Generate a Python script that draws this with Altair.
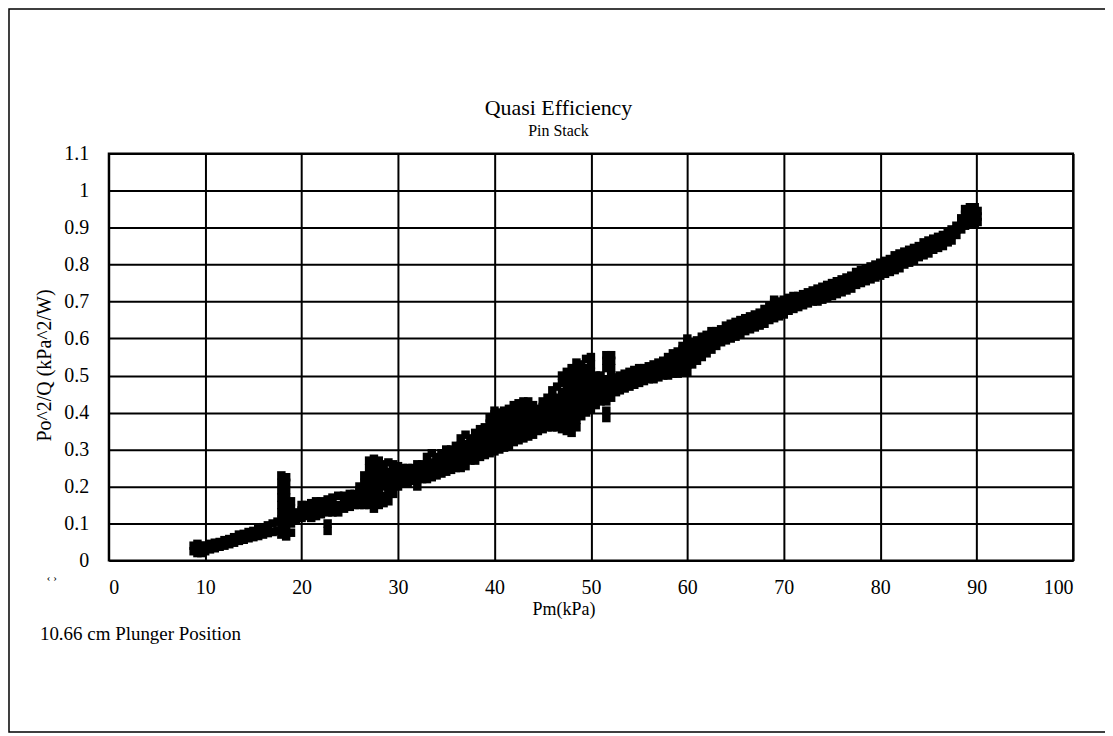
import altair as alt
import pandas as pd

# Pm positions (kPa) and the Po^2/Q values stacked at each position
pm_positions = [
    8.8, 9.2, 9.6, 10.0, 10.5, 11.0, 11.5, 12.0, 12.5, 13.0, 13.5, 14.0, 14.5, 15.0, 15.5,
    16.0, 16.5, 17.0, 17.5, 17.9, 18.4, 18.9, 19.4, 20.0, 20.5, 21.0, 21.5, 22.0, 22.7,
    23.2, 23.8, 24.4, 25.0, 25.5, 26.0, 26.5, 27.0, 27.5, 28.0, 28.5, 29.0, 29.5, 30.0,
    30.5, 31.0, 31.5, 32.0, 32.5, 33.0, 33.5, 34.0, 34.5, 35.0, 35.5, 36.0, 36.5, 37.0,
    37.5, 38.0, 38.5, 39.0, 39.5, 40.0, 40.5, 41.0, 41.5, 42.0, 42.5, 43.0, 43.5, 44.0,
    44.5, 45.0, 45.5, 46.0, 46.5, 47.0, 47.5, 48.0, 48.5, 49.0, 49.5, 50.0, 50.5, 51.0,
    51.6, 52.1, 52.6, 53.0, 53.5, 54.0, 54.5, 55.0, 55.5, 56.0, 56.5, 57.0, 57.5, 58.0,
    58.5, 59.0, 59.5, 60.0, 60.5, 61.0, 61.5, 62.0, 62.5, 63.0, 63.5, 64.0, 64.5, 65.0,
    65.5, 66.0, 66.5, 67.0, 67.5, 68.0, 68.5, 69.0, 69.5, 70.0, 70.5, 71.0, 71.5, 72.0,
    72.5, 73.0, 73.5, 74.0, 74.5, 75.0, 75.5, 76.0, 76.5, 77.0, 77.5, 78.0, 78.5, 79.0,
    79.5, 80.0, 80.5, 81.0, 81.5, 82.0, 82.5, 83.0, 83.5, 84.0, 84.5, 85.0, 85.5, 86.0,
    86.5, 87.0, 87.4, 87.9, 88.4, 88.8, 89.3, 89.8, 90.1,
]

po_readings = [
    [0.025, 0.04], [0.02, 0.035, 0.045], [0.02, 0.03, 0.04], [0.025, 0.04], [0.03, 0.045],
    [0.033, 0.048], [0.037, 0.05], [0.04, 0.055], [0.044, 0.058], [0.048, 0.063],
    [0.053, 0.07], [0.056, 0.072], [0.06, 0.077], [0.063, 0.08], [0.066, 0.085],
    [0.07, 0.09], [0.074, 0.095], [0.077, 0.1], [0.08, 0.105],
    [0.07, 0.09, 0.11, 0.13, 0.15, 0.17, 0.19, 0.21, 0.23],
    [0.065, 0.085, 0.11, 0.13, 0.15, 0.17, 0.19, 0.21, 0.225],
    [0.075, 0.1, 0.12, 0.14, 0.16], [0.11, 0.13], [0.115, 0.135, 0.15], [0.12, 0.14, 0.15],
    [0.115, 0.135, 0.155], [0.12, 0.14, 0.16], [0.125, 0.145, 0.16],
    [0.08, 0.1, 0.13, 0.15, 0.165],
    [0.13, 0.15, 0.17], [0.13, 0.15, 0.175], [0.14, 0.16, 0.175], [0.145, 0.165, 0.18],
    [0.15, 0.17, 0.18], [0.15, 0.17, 0.19, 0.2], [0.15, 0.17, 0.19, 0.21, 0.23],
    [0.15, 0.17, 0.19, 0.21, 0.23, 0.25, 0.27],
    [0.14, 0.16, 0.18, 0.2, 0.22, 0.24, 0.26, 0.275],
    [0.15, 0.17, 0.19, 0.21, 0.23, 0.25, 0.27],
    [0.155, 0.175, 0.2, 0.22, 0.24, 0.26], [0.16, 0.18, 0.2, 0.22, 0.24, 0.265],
    [0.18, 0.2, 0.22, 0.24, 0.26], [0.2, 0.22, 0.24, 0.255],
    [0.21, 0.23, 0.25], [0.21, 0.23, 0.25], [0.215, 0.235, 0.25], [0.2, 0.22, 0.24, 0.26],
    [0.22, 0.24, 0.26], [0.22, 0.24, 0.26, 0.28], [0.225, 0.245, 0.265, 0.29],
    [0.23, 0.25, 0.27, 0.28], [0.235, 0.255, 0.275, 0.29], [0.24, 0.26, 0.28, 0.3],
    [0.245, 0.265, 0.285, 0.3], [0.25, 0.27, 0.29, 0.31], [0.25, 0.27, 0.29, 0.31, 0.33],
    [0.255, 0.275, 0.295, 0.315, 0.34],
    [0.27, 0.29, 0.31, 0.33], [0.27, 0.29, 0.31, 0.33, 0.345], [0.28, 0.3, 0.32, 0.34, 0.355],
    [0.285, 0.305, 0.325, 0.345, 0.36], [0.29, 0.31, 0.33, 0.35, 0.37, 0.385],
    [0.295, 0.315, 0.335, 0.355, 0.375, 0.395, 0.405], [0.3, 0.32, 0.34, 0.36, 0.38, 0.4],
    [0.305, 0.325, 0.345, 0.365, 0.385, 0.405], [0.31, 0.33, 0.35, 0.37, 0.39, 0.41],
    [0.32, 0.34, 0.36, 0.38, 0.4, 0.42], [0.325, 0.345, 0.365, 0.385, 0.405, 0.425],
    [0.33, 0.35, 0.37, 0.39, 0.41, 0.43], [0.335, 0.355, 0.375, 0.395, 0.415, 0.43],
    [0.34, 0.36, 0.38, 0.4, 0.42],
    [0.35, 0.37, 0.39, 0.41], [0.355, 0.375, 0.395, 0.415, 0.43], [0.36, 0.38, 0.4, 0.42, 0.44],
    [0.36, 0.38, 0.4, 0.42, 0.44, 0.46], [0.36, 0.38, 0.4, 0.42, 0.44, 0.47],
    [0.355, 0.375, 0.395, 0.415, 0.435, 0.455, 0.48, 0.5],
    [0.35, 0.37, 0.39, 0.41, 0.43, 0.45, 0.47, 0.49, 0.51],
    [0.345, 0.365, 0.385, 0.405, 0.425, 0.445, 0.465, 0.485, 0.505, 0.52],
    [0.36, 0.38, 0.4, 0.42, 0.44, 0.46, 0.48, 0.5, 0.52, 0.535],
    [0.39, 0.41, 0.43, 0.45, 0.47, 0.49, 0.51, 0.53],
    [0.4, 0.42, 0.44, 0.46, 0.48, 0.5, 0.52, 0.545],
    [0.41, 0.43, 0.45, 0.47, 0.49, 0.51, 0.53, 0.55],
    [0.42, 0.44, 0.46, 0.48, 0.5], [0.43, 0.45, 0.47, 0.49, 0.5],
    [0.385, 0.405, 0.43, 0.45, 0.47, 0.49, 0.52, 0.54, 0.555],
    [0.44, 0.46, 0.48, 0.5, 0.52, 0.54, 0.555],
    [0.455, 0.475, 0.495], [0.46, 0.48, 0.5], [0.465, 0.485, 0.505], [0.47, 0.49, 0.51],
    [0.475, 0.495, 0.515], [0.48, 0.5, 0.52], [0.485, 0.505, 0.52], [0.49, 0.51, 0.525],
    [0.49, 0.51, 0.53], [0.495, 0.515, 0.535], [0.5, 0.52, 0.54], [0.5, 0.52, 0.54, 0.55],
    [0.505, 0.525, 0.545, 0.56], [0.505, 0.525, 0.545, 0.565], [0.51, 0.53, 0.55, 0.57, 0.58],
    [0.51, 0.53, 0.55, 0.57, 0.59, 0.6], [0.53, 0.55, 0.57, 0.59], [0.54, 0.56, 0.58, 0.595],
    [0.55, 0.57, 0.59, 0.605], [0.56, 0.58, 0.6, 0.61], [0.57, 0.59, 0.61, 0.62],
    [0.58, 0.6, 0.62], [0.59, 0.61, 0.625], [0.595, 0.615, 0.635], [0.6, 0.62, 0.64],
    [0.605, 0.625, 0.645], [0.61, 0.63, 0.65], [0.62, 0.64, 0.655], [0.625, 0.645, 0.66],
    [0.63, 0.65, 0.665], [0.635, 0.655, 0.67], [0.64, 0.66, 0.68], [0.65, 0.67, 0.69],
    [0.655, 0.675, 0.695, 0.705], [0.66, 0.68, 0.7], [0.665, 0.685, 0.705],
    [0.675, 0.695, 0.71], [0.68, 0.7, 0.715], [0.685, 0.705, 0.715], [0.69, 0.705, 0.72],
    [0.695, 0.71, 0.725], [0.7, 0.715, 0.73], [0.7, 0.72, 0.735], [0.705, 0.725, 0.74],
    [0.71, 0.73, 0.745], [0.715, 0.735, 0.75], [0.72, 0.74, 0.755], [0.725, 0.745, 0.76],
    [0.73, 0.75, 0.765], [0.735, 0.755, 0.77], [0.745, 0.765, 0.78], [0.75, 0.77, 0.785],
    [0.755, 0.775, 0.79], [0.76, 0.78, 0.795], [0.765, 0.785, 0.8], [0.77, 0.79, 0.805],
    [0.775, 0.795, 0.81], [0.78, 0.8, 0.815], [0.785, 0.805, 0.825], [0.79, 0.81, 0.83],
    [0.8, 0.82, 0.835], [0.805, 0.825, 0.84], [0.81, 0.83, 0.845], [0.82, 0.84, 0.85],
    [0.825, 0.845, 0.86], [0.83, 0.85, 0.865], [0.84, 0.855, 0.87], [0.845, 0.86, 0.875],
    [0.85, 0.865, 0.88], [0.86, 0.875, 0.89], [0.865, 0.88, 0.895], [0.88, 0.895, 0.905],
    [0.895, 0.91, 0.925], [0.905, 0.92, 0.935, 0.95], [0.91, 0.925, 0.94, 0.955],
    [0.91, 0.925, 0.94, 0.955], [0.915, 0.93, 0.945],
]

x_ticks = [0, 10, 20, 30, 40, 50, 60, 70, 80, 90, 100]
y_ticks = [0, 0.1, 0.2, 0.3, 0.4, 0.5, 0.6, 0.7, 0.8, 0.9, 1.0, 1.1]

chart_title = "Quasi Efficiency"
chart_subtitle = "Pin Stack"
x_title = "Pm(kPa)"
y_title = "Po^2/Q (kPa^2/W)"
note_text = "10.66 cm Plunger Position"
corner_mark = "‹ ›"

rows = [{"pm": x, "po": y} for x, ys in zip(pm_positions, po_readings) for y in ys]
df = pd.DataFrame(rows)
one = pd.DataFrame({"k": [0]})

FONT = "Liberation Serif"
W, H = 967, 408

points = alt.Chart(df).mark_square(size=72, color="black", opacity=1, filled=True).encode(
    x=alt.X(
        "pm:Q",
        scale=alt.Scale(domain=[0, 100], nice=False, zero=False),
        axis=alt.Axis(
            values=x_ticks, title=x_title, labelPadding=17, titleX=456, titleY=54,
            titleBaseline="alphabetic", titleAnchor="middle", titleFontSize=18,
        ),
    ),
    y=alt.Y(
        "po:Q",
        scale=alt.Scale(domain=[0, 1.1], nice=False, zero=False),
        axis=alt.Axis(
            values=y_ticks, title=y_title, labelPadding=20,
            labelExpr="format(datum.value, '~g')",
            titleAngle=-90, titleX=-58, titleY=212, titleBaseline="alphabetic",
            titleAlign="center", titleFontSize=20,
        ),
    ),
)

frame = alt.Chart(one).mark_rect(fill=None, stroke="black", strokeWidth=1.5, clip=False).encode(
    x=alt.value(-100), x2=alt.value(1001), y=alt.value(-145), y2=alt.value(580)
)


def label(text, x, y, size, align="center"):
    return alt.Chart(one).mark_text(
        text=text, font=FONT, fontSize=size, align=align, baseline="middle", color="black"
    ).encode(x=alt.value(x), y=alt.value(y))


title_mark = label(chart_title, 451, -46, 22)
subtitle_mark = label(chart_subtitle, 451, -23, 16)
note = label(note_text, -69, 482, 19, align="left")
corner = label(corner_mark, -57, 426, 11)

chart = (
    alt.layer(frame, points, title_mark, subtitle_mark, note, corner)
    .properties(
        width=W,
        height=H,
        autosize=alt.AutoSizeParams(type="none"),
        padding={"left": 101, "top": 145, "right": 32, "bottom": 172},
    )
    .configure_view(stroke="black", strokeWidth=2)
    .configure_axis(
        grid=True, gridColor="black", gridWidth=2, gridOpacity=1,
        domain=False, ticks=False,
        labelFont=FONT, labelFontSize=20, labelColor="black",
        titleFont=FONT, titleColor="black", titleFontWeight="normal",
    )
)

chart.save("out.html", embed_options={"renderer": "svg", "actions": False})
